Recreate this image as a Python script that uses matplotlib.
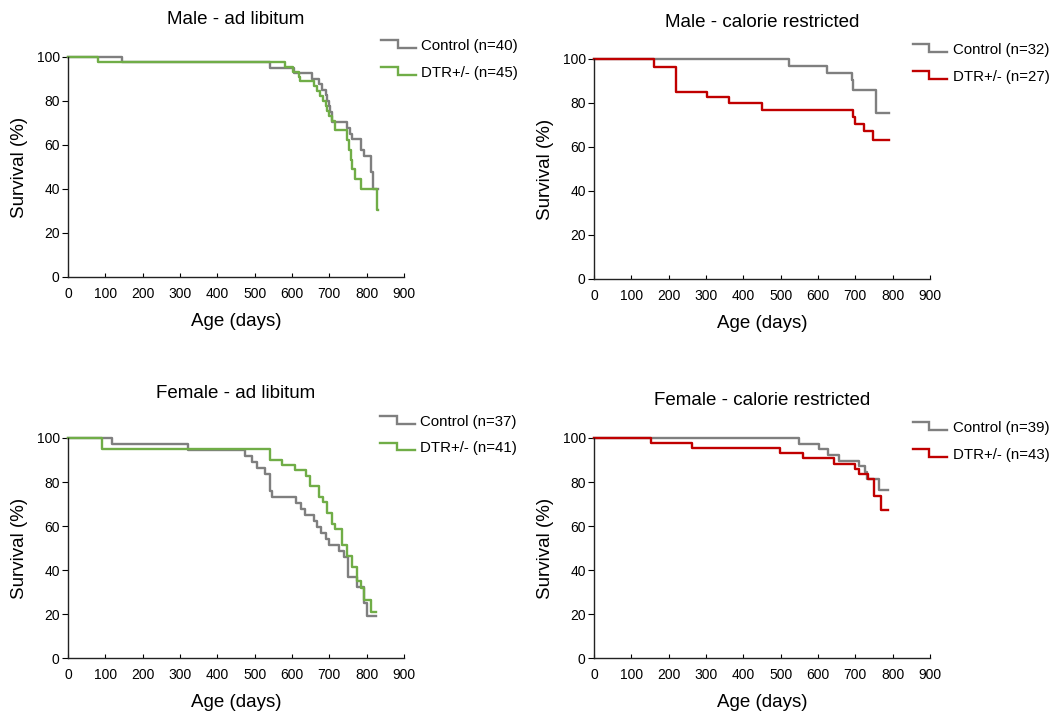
import matplotlib
matplotlib.use("Agg")
import matplotlib.pyplot as plt
from matplotlib.lines import Line2D
from matplotlib.legend_handler import HandlerBase

plt.rcParams['font.family'] = ['Liberation Sans', 'DejaVu Sans']

# ---------------- data (age in days, survival %) ----------------
male_al_ctrl_t = [0, 145, 540, 605, 654, 672, 680, 690, 694, 698, 702, 708, 748, 755, 762, 784, 793, 812, 818, 830]
male_al_ctrl_s = [100, 97.5, 95, 92.5, 90, 87.5, 85, 82.5, 80, 77.5, 75, 70.3, 67.5, 65, 62.5, 57.5, 55, 47.5, 40, 40]
male_al_dtr_t = [0, 80, 582, 604, 618, 622, 658, 667, 676, 684, 690, 695, 698, 707, 716, 748, 752, 757, 762, 770, 784, 828, 830]
male_al_dtr_s = [100, 97.8, 95.6, 93.3, 91.1, 88.9, 86.7, 84.4, 82.2, 80, 77.8, 75.6, 73.3, 71.1, 66.7, 62.2, 57.8, 53.3, 48.9, 44.4, 40, 30.3, 30.3]

male_cr_ctrl_t = [0, 522, 625, 691, 695, 756, 791]
male_cr_ctrl_s = [100, 96.9, 93.8, 90.6, 86, 75.4, 75.4]
male_cr_dtr_t = [0, 161, 219, 303, 362, 450, 693, 699, 723, 748, 791]
male_cr_dtr_s = [100, 96.3, 85.2, 82.6, 80.2, 76.9, 73.6, 70.5, 67.2, 63.3, 63.3]

female_al_ctrl_t = [0, 117, 322, 473, 492, 507, 528, 540, 547, 612, 623, 635, 659, 668, 677, 690, 700, 726, 740, 751, 775, 793, 802, 824]
female_al_ctrl_s = [100, 97.3, 94.6, 91.9, 89.2, 86.5, 83.8, 75.7, 73, 70.3, 67.6, 64.9, 62.2, 59.5, 56.8, 54.1, 51.4, 48.6, 45.9, 37, 32.5, 25, 19, 19]
female_al_dtr_t = [0, 92, 541, 572, 608, 637, 647, 672, 684, 695, 706, 715, 735, 748, 760, 773, 784, 793, 811, 824]
female_al_dtr_s = [100, 95.1, 90.2, 87.8, 85.4, 82.9, 78, 73.2, 70.7, 65.9, 61, 58.5, 51.2, 46.3, 41.5, 35, 31.7, 26.5, 20.7, 20.7]

female_cr_ctrl_t = [0, 548, 604, 626, 656, 709, 726, 730, 763, 787]
female_cr_ctrl_s = [100, 97.4, 94.9, 92.3, 89.7, 87.2, 84.6, 81.5, 76.4, 76.4]
female_cr_dtr_t = [0, 154, 263, 497, 560, 644, 698, 709, 733, 751, 769, 787]
female_cr_dtr_s = [100, 97.7, 95.3, 93, 90.7, 88.4, 86, 83.7, 81.4, 73.5, 67.4, 67.4]

titles = ["Male - ad libitum", "Male - calorie restricted",
          "Female - ad libitum", "Female - calorie restricted"]
ctrl_labels = ["Control (n=40)", "Control (n=32)", "Control (n=37)", "Control (n=39)"]
dtr_labels = ["DTR+/- (n=45)", "DTR+/- (n=27)", "DTR+/- (n=41)", "DTR+/- (n=43)"]
x_ticks = [0, 100, 200, 300, 400, 500, 600, 700, 800, 900]
y_ticks = [0, 20, 40, 60, 80, 100]

GRAY = "#7f7f7f"
GREEN = "#70ad47"
RED = "#c00000"

panels = [
    (male_al_ctrl_t, male_al_ctrl_s, male_al_dtr_t, male_al_dtr_s, GREEN),
    (male_cr_ctrl_t, male_cr_ctrl_s, male_cr_dtr_t, male_cr_dtr_s, RED),
    (female_al_ctrl_t, female_al_ctrl_s, female_al_dtr_t, female_al_dtr_s, GREEN),
    (female_cr_ctrl_t, female_cr_ctrl_s, female_cr_dtr_t, female_cr_dtr_s, RED),
]


class HandlerStep(HandlerBase):
    def create_artists(self, legend, orig_handle, xdescent, ydescent,
                       width, height, fontsize, trans):
        x0 = -xdescent
        y_hi = -ydescent + height * 0.95
        y_lo = -ydescent + height * 0.2
        xm = x0 + width * 0.48
        line = Line2D([x0, xm, xm, x0 + width], [y_hi, y_hi, y_lo, y_lo],
                      color=orig_handle.get_color(),
                      linewidth=orig_handle.get_linewidth(),
                      solid_joinstyle='miter')
        line.set_transform(trans)
        return [line]


fig = plt.figure(figsize=(10.54, 7.11), dpi=100)
W, H = 1054, 711
# axes boxes in pixels: (left, top, right, bottom)
boxes = [(68, 57, 404, 277), (594, 59, 930, 279),
         (68, 438, 404, 658), (594, 438, 930, 658)]
title_pads = [24, 23, 29, 24]
legend_anchor = [(0.914, 1.108), (0.931, 1.10), (0.911, 1.133), (0.931, 1.103)]

for i, (box, pan) in enumerate(zip(boxes, panels)):
    l, t, r, b = box
    ax = fig.add_axes([l / W, 1 - b / H, (r - l) / W, (b - t) / H])
    ct, cs, dt, ds, dcol = pan
    h1, = ax.step(ct, cs, where='post', color=GRAY, lw=1.7, label=ctrl_labels[i], clip_on=False)
    h2, = ax.step(dt, ds, where='post', color=dcol, lw=1.7, label=dtr_labels[i], clip_on=False)
    ax.set_xlim(0, 900)
    ax.set_ylim(0, 100)
    ax.set_xticks(x_ticks)
    ax.set_yticks(y_ticks)
    ax.tick_params(axis='x', direction='in', length=3, width=0.8, labelsize=10, pad=7.5)
    ax.tick_params(axis='y', direction='out', length=4, width=0.8, labelsize=10, pad=2)
    for s in ['top', 'right']:
        ax.spines[s].set_visible(False)
    for s in ['left', 'bottom']:
        ax.spines[s].set_color('#222222')
        ax.spines[s].set_linewidth(1.0)
    ax.set_xlabel("Age (days)", fontsize=13.5, labelpad=8.5)
    ax.set_ylabel("Survival (%)", fontsize=13.5, labelpad=6)
    ax.set_title(titles[i], fontsize=13.5, pad=title_pads[i])
    leg = ax.legend(handles=[h1, h2], handler_map={Line2D: HandlerStep()},
                    loc='upper left', bbox_to_anchor=legend_anchor[i],
                    frameon=False, fontsize=10.8, handlelength=2.3,
                    handletextpad=0.35, labelspacing=0.85, borderaxespad=0)
    leg.set_clip_on(False)

fig.savefig("out.png", dpi=100)
